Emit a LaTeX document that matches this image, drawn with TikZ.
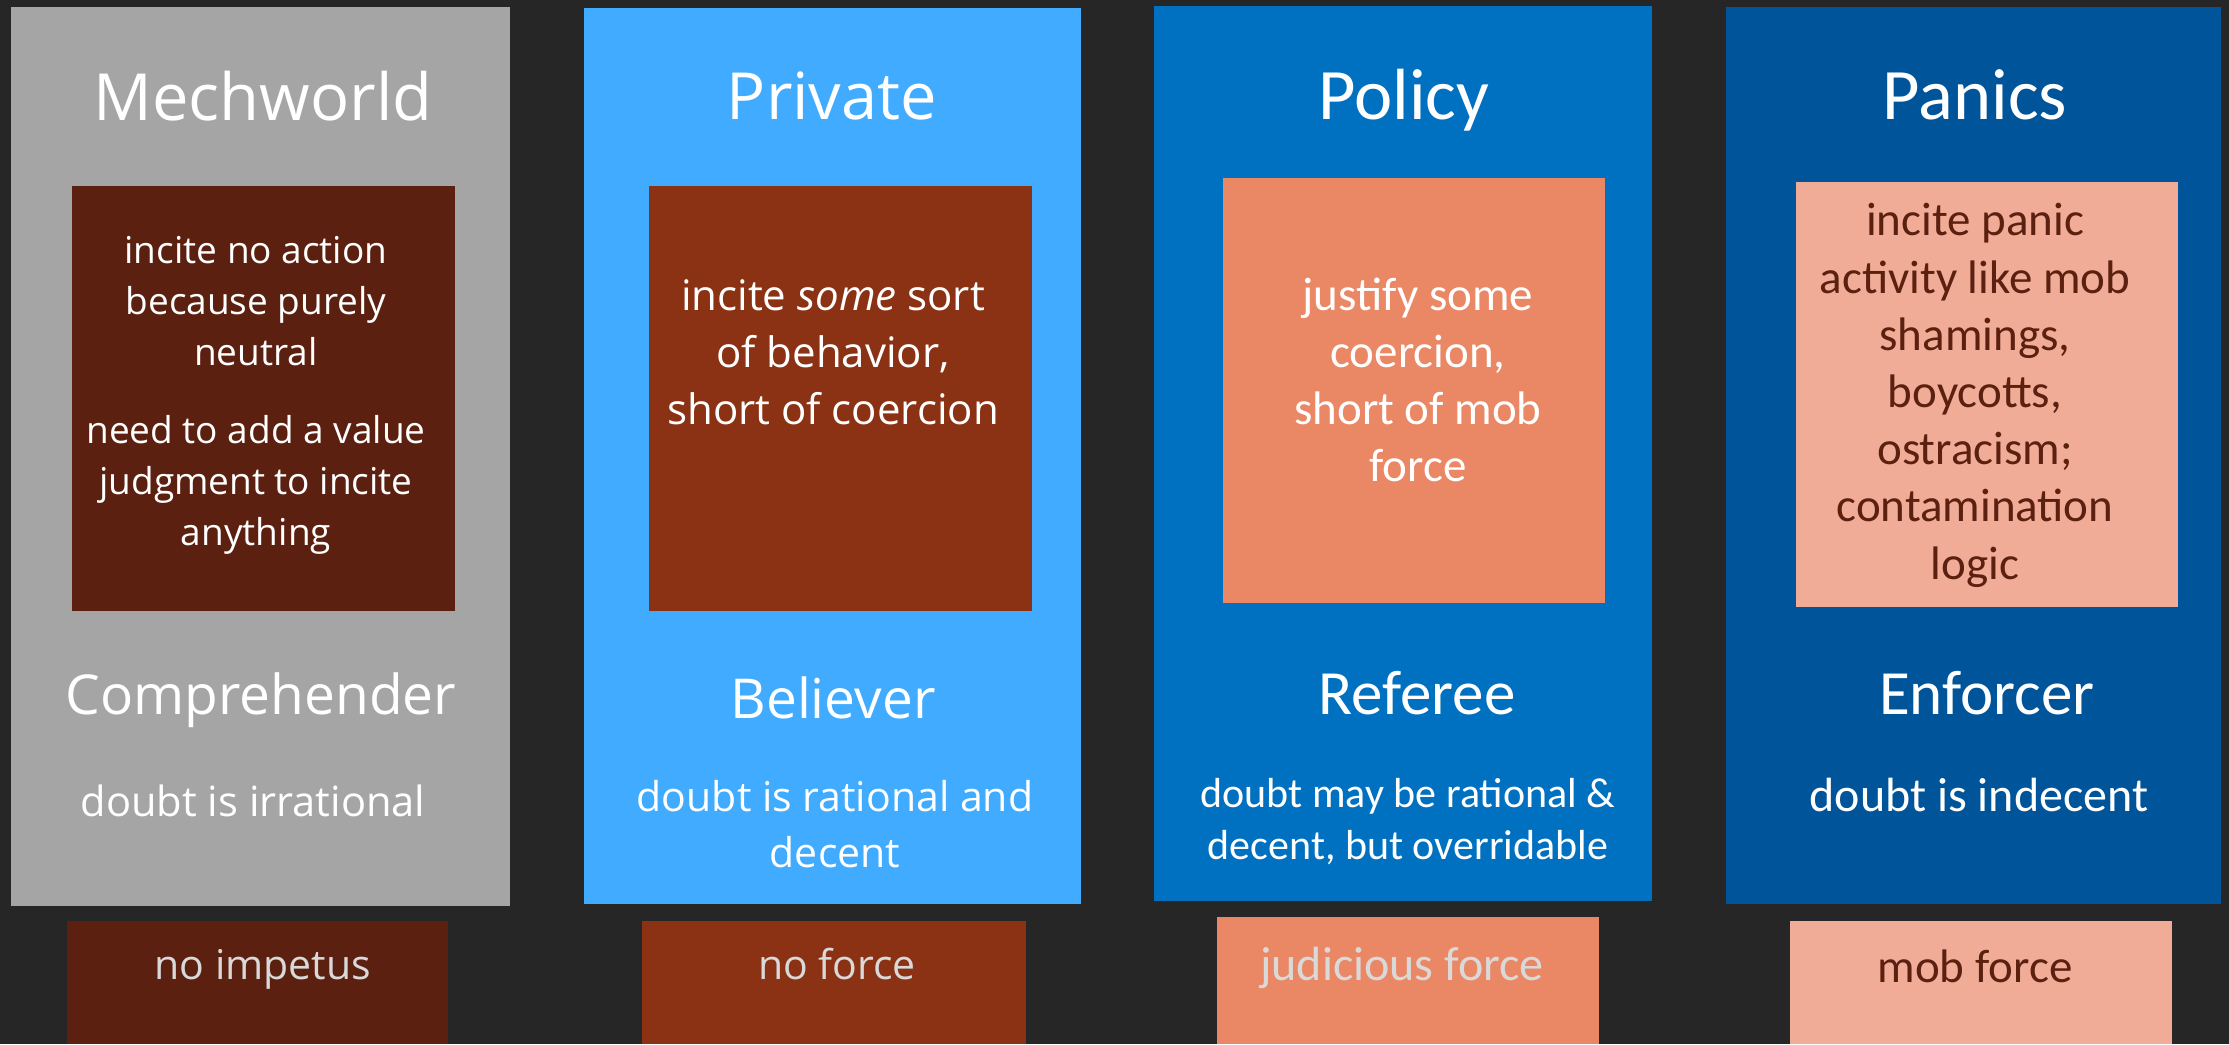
\documentclass[tikz,border=0pt]{standalone}
\usepackage{fontspec}
\setmainfont{Open Sans}
\newfontfamily\segfont{Open Sans}
\newfontfamily\calfont{Carlito}
\definecolor{bgc}{HTML}{262626}
\definecolor{greyc}{HTML}{A5A5A5}
\definecolor{brownA}{HTML}{5B200F}
\definecolor{brownB}{HTML}{8B3214}
\definecolor{blueA}{HTML}{40ABFF}
\definecolor{blueB}{HTML}{0070C0}
\definecolor{blueC}{HTML}{00549A}
\definecolor{salmon}{HTML}{EA8866}
\definecolor{pinkc}{HTML}{F0AC97}
\definecolor{lightt}{HTML}{D9D9D9}
\definecolor{darkt}{HTML}{5B200F}
\tikzset{
  txt/.style={anchor=base, inner sep=0pt, align=center, text=white},
  segtitle/.style={txt, font={\segfont\fontsize{65}{76}\selectfont}},
  segrole/.style={txt, font={\segfont\fontsize{55}{66}\selectfont}},
  caltitle/.style={txt, font={\calfont\fontsize{72.5}{85}\selectfont}},
  calrole/.style={txt, font={\calfont\fontsize{63}{73}\selectfont}},
}
\begin{document}
\begin{tikzpicture}[x=1pt,y=-1pt]
\fill[bgc] (0,0) rectangle (2229,1044);
\useasboundingbox (0,0) rectangle (2229,1044);
% column 1
\fill[greyc] (11,7) rectangle (510,906);
\fill[brownA] (72,186) rectangle (455,611);
\fill[brownA] (67,921) rectangle (448,1044);
% column 2
\fill[blueA] (584,8) rectangle (1081,904);
\fill[brownB] (649,186) rectangle (1032,611);
\fill[brownB] (642,921) rectangle (1026,1044);
% column 3
\fill[blueB] (1154,6) rectangle (1652,901);
\fill[salmon] (1223,178) rectangle (1605,603);
\fill[salmon] (1217,917) rectangle (1599,1044);
% column 4
\fill[blueC] (1726,7) rectangle (2221,904);
\fill[pinkc] (1796,182) rectangle (2178,607);
\fill[pinkc] (1790,921) rectangle (2172,1044);

% column 1 texts (multi-line nodes: base = last line's baseline)
\node[segtitle] (t1) at (263,120) {Mechworld};
\node[txt, font={\segfont\fontsize{37}{51}\selectfont}] (i1a) at (256,365) {incite no action\\because purely\\neutral};
\node[txt, font={\segfont\fontsize{37}{51}\selectfont}] (i1b) at (256,545) {need to add a value\\judgment to incite\\anything};
\node[segrole] (r1) at (261,714) {Comprehender};
\node[txt, font={\segfont\fontsize{41.6}{50}\selectfont}] (d1) at (253,816) {doubt is irrational};
\node[txt, text=lightt, font={\segfont\fontsize{41}{50}\selectfont}] (b1) at (263,979) {no impetus};

% column 2 texts
\node[segtitle] (t2) at (832,119) {Private};
\node[txt, font={\segfont\fontsize{42}{57}\selectfont}] (i2) at (833,424) {incite {\itshape some} sort\\of behavior,\\short of coercion};
\node[segrole] (r2) at (833,718) {Believer};
\node[txt, font={\segfont\fontsize{41}{56}\selectfont}] (d2) at (835,867) {doubt is rational and\\decent};
\node[txt, text=lightt, font={\segfont\fontsize{41}{50}\selectfont}] (b2) at (837,979) {no force};

% column 3 texts
\node[caltitle] (t3) at (1404,119) {Policy};
\node[txt, font={\calfont\fontsize{47}{57}\selectfont}] (i3) at (1418,481) {justify some\\coercion,\\short of mob\\force};
\node[calrole] (r3) at (1417,714) {Referee};
\node[txt, font={\calfont\fontsize{42}{52}\selectfont}] (d3) at (1408,859) {doubt may be rational \&\\decent, but overridable};
\node[txt, text=lightt, font={\calfont\fontsize{48}{57}\selectfont}] (b3) at (1402,980) {judicious force};

% column 4 texts
\node[caltitle] (t4) at (1975,119) {Panics};
\node[txt, text=darkt, font={\calfont\fontsize{47}{57.2}\selectfont}] (i4) at (1975,579) {incite panic\\activity like mob\\shamings,\\boycotts,\\ostracism;\\contamination\\logic};
\node[calrole] (r4) at (1987,714) {Enforcer};
\node[txt, font={\calfont\fontsize{48}{57}\selectfont}] (d4) at (1979,811) {doubt is indecent};
\node[txt, text=darkt, font={\calfont\fontsize{47}{57}\selectfont}] (b4) at (1975,982) {mob force};
\end{tikzpicture}
\end{document}
